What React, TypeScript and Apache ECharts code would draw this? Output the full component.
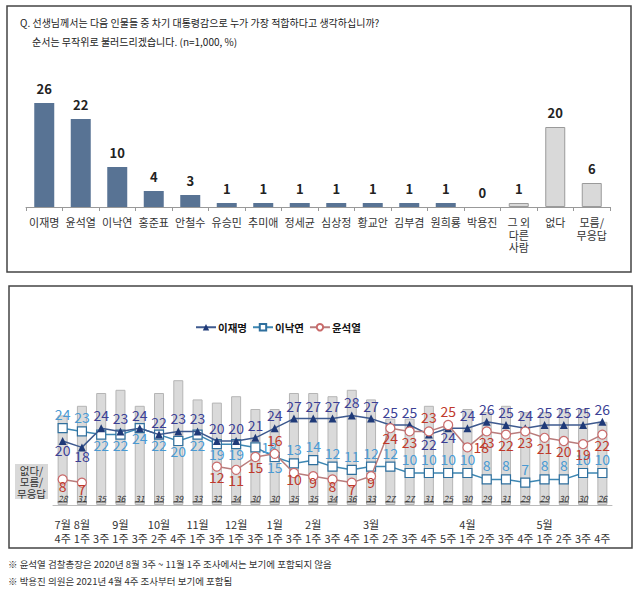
import React, { useEffect, useRef } from "react";
import * as echarts from "echarts";

const topCategories = ["이재명", "윤석열", "이낙연", "홍준표", "안철수", "유승민", "추미애", "정세균", "심상정", "황교안", "김부겸", "원희룡", "박용진", "그 외\n다른\n사람", "없다", "모름/\n무응답"];
const topValues = [26, 22, 10, 4, 3, 1, 1, 1, 1, 1, 1, 1, 0, 1, 20, 6];

const weeks = ["7월\n4주", "8월\n1주", "\n3주", "9월\n1주", "\n3주", "10월\n2주", "\n4주", "11월\n1주", "\n3주", "12월\n1주", "\n3주", "1월\n1주", "\n3주", "2월\n1주", "\n3주", "\n4주", "3월\n1주", "\n2주", "\n3주", "\n4주", "\n5주", "4월\n1주", "\n2주", "\n3주", "\n4주", "5월\n1주", "\n2주", "\n3주", "\n4주"];
const leeJM = [20, 18, 24, 23, 24, 22, 23, 23, 20, 20, 21, 24, 27, 27, 27, 28, 27, 25, 25, 22, 24, 24, 26, 25, 24, 25, 25, 25, 26];
const leeNY = [24, 23, 22, 22, 24, 22, 20, 22, 19, 19, 18, 15, 13, 14, 12, 11, 12, 12, 10, 10, 10, 10, 8, 8, 7, 8, 8, 10, 10];
const yoon = [8, 7, null, null, null, null, null, null, 12, 11, 15, 16, 10, 9, 8, 7, 9, 24, 23, 23, 25, 18, 23, 22, 23, 21, 20, 19, 22];
const noneDk = [28, 31, 35, 36, 31, 35, 39, 33, 32, 34, 30, 30, 35, 35, 34, 36, 33, 27, 27, 31, 25, 30, 29, 31, 29, 29, 30, 30, 26];

// label placement (style only)
const leePos = leeJM.map((_, i) => ([0, 1, 19, 20].includes(i) ? "bottom" : "top"));
const nyPos = leeNY.map((_, i) => (i <= 1 ? "top" : i === 10 ? "right" : i <= 11 ? "bottom" : "top"));
const yoonPos = yoon.map((_, i) => ([11, 19, 20].includes(i) ? "top" : i === 21 ? "right" : "bottom"));

const FONT = "'Noto Sans CJK KR', 'Noto Sans', sans-serif";

export default function App() {
  const ref = useRef<HTMLDivElement>(null);
  useEffect(() => {
    const chart = echarts.init(ref.current!, null, { renderer: "svg" });
    const otherStart = 13;
    const lbl = (pos: string, tight = false) => ({
      position: pos,
      distance: pos === "bottom" ? (tight ? -6 : -2) : pos === "right" ? 1 : 2,
    });
    const option: any = {
      animation: false,
      textStyle: { fontFamily: FONT },
      legend: {
        data: ["이재명", "이낙연", "윤석열"],
        left: 190,
        top: 317,
        itemWidth: 20,
        itemHeight: 8,
        itemGap: 5,
        textStyle: { fontFamily: FONT, fontSize: 10.5, fontWeight: "bold", color: "#111", padding: [0, 0, 0, -3] },
      },
      graphic: [
        { type: "rect", shape: { x: 7, y: 6, width: 624, height: 266 }, style: { fill: "none", stroke: "#444", lineWidth: 1.5 } },
        { type: "rect", shape: { x: 9, y: 286, width: 623, height: 262 }, style: { fill: "none", stroke: "#444", lineWidth: 1.5 } },
        { type: "text", x: 20, y: 17, style: { text: "Q. 선생님께서는 다음 인물들 중 차기 대통령감으로 누가 가장 적합하다고 생각하십니까?", fontSize: 10, fill: "#222", fontFamily: FONT } },
        { type: "text", x: 32, y: 36, style: { text: "순서는 무작위로 불러드리겠습니다. (n=1,000, %)", fontSize: 10, fill: "#222", fontFamily: FONT } },
        { type: "rect", shape: { x: 15, y: 464, width: 33, height: 35 }, style: { fill: "#d9d9d9" } },
        { type: "text", x: 31.5, y: 464.5, style: { text: "없다/\n모름/\n무응답", fontSize: 10.5, lineHeight: 11.5, align: "center", fill: "#333", fontFamily: FONT } },
        { type: "text", x: 8, y: 559, style: { text: "※ 윤석열 검찰총장은 2020년 8월 3주 ~ 11월 1주 조사에서는 보기에 포함되지 않음", fontSize: 9.5, fill: "#333", fontFamily: FONT } },
        { type: "text", x: 8, y: 576, style: { text: "※ 박용진 의원은 2021년 4월 4주 조사부터 보기에 포함됨", fontSize: 9.5, fill: "#333", fontFamily: FONT } },
      ],
      grid: [
        { left: 26, right: 30, top: 87, height: 120 },
        { left: 53, right: 28, top: 377, height: 128 },
      ],
      xAxis: [
        {
          gridIndex: 0,
          type: "category",
          data: topCategories,
          axisLine: { lineStyle: { color: "#999" } },
          axisTick: { show: true, length: 4, lineStyle: { color: "#999" } },
          axisLabel: { color: "#333", fontSize: 11, margin: 9, lineHeight: 12.5, interval: 0, fontFamily: FONT },
        },
        {
          gridIndex: 1,
          type: "category",
          data: weeks,
          axisLine: { lineStyle: { color: "#bbb" } },
          axisTick: { show: false },
          axisLabel: { color: "#333", fontSize: 11, margin: 12, lineHeight: 14, interval: 0, fontFamily: FONT },
        },
      ],
      yAxis: [
        { gridIndex: 0, type: "value", min: 0, max: 30, show: false },
        { gridIndex: 1, type: "value", min: 0, max: 40, show: false },
      ],
      series: [
        {
          type: "bar",
          xAxisIndex: 0,
          yAxisIndex: 0,
          barWidth: 20,
          data: topValues.map((v, i) => ({
            value: v,
            itemStyle: i >= otherStart ? { color: "#d9d9d9", borderColor: "#9a9a9a", borderWidth: 1 } : { color: "#587394" },
          })),
          label: { show: true, position: "top", distance: 8, fontSize: 13, fontWeight: "bold", color: "#222", fontFamily: FONT },
        },
        {
          name: "없다/모름/무응답",
          type: "bar",
          xAxisIndex: 1,
          yAxisIndex: 1,
          barWidth: 10,
          data: noneDk,
          itemStyle: { color: "#dadada", borderColor: "#b5b5b5", borderWidth: 1 },
          z: 1,
        },
        {
          type: "custom",
          xAxisIndex: 1,
          yAxisIndex: 1,
          data: noneDk.map((v, i) => [i, v]),
          z: 3,
          renderItem: (params: any, api: any) => {
            const p = api.coord([api.value(0), 0]);
            return {
              type: "group",
              children: [
                { type: "text", x: p[0], y: p[1] - 3, style: { text: String(api.value(1)), align: "center", verticalAlign: "bottom", fontSize: 8.5, fontStyle: "italic", fill: "#333", fontFamily: FONT } },
                { type: "line", shape: { x1: p[0] - 5, y1: p[1] - 3, x2: p[0] + 5, y2: p[1] - 3 }, style: { stroke: "#333", lineWidth: 0.8 } },
              ],
            };
          },
        },
        {
          name: "이재명",
          type: "line",
          xAxisIndex: 1,
          yAxisIndex: 1,
          data: leeJM.map((v, i) => ({ value: v, label: lbl(leePos[i]) })),
          symbol: "triangle",
          symbolSize: 8,
          lineStyle: { color: "#3e5a8f", width: 1.5 },
          itemStyle: { color: "#1f3a78" },
          label: { show: true, fontSize: 14, color: "#3b3f95", fontFamily: FONT },
          z: 5,
        },
        {
          name: "이낙연",
          type: "line",
          xAxisIndex: 1,
          yAxisIndex: 1,
          data: leeNY.map((v, i) => ({ value: v, label: lbl(nyPos[i]) })),
          symbol: "rect",
          symbolSize: 9,
          lineStyle: { color: "#3d87b3", width: 1.5 },
          itemStyle: { color: "#ffffff", borderColor: "#2f6f9d", borderWidth: 1.2 },
          label: { show: true, fontSize: 14, color: "#4a9ad3", fontFamily: FONT },
          z: 4,
        },
        {
          name: "윤석열",
          type: "line",
          xAxisIndex: 1,
          yAxisIndex: 1,
          data: yoon.map((v, i) => ({ value: v, label: lbl(yoonPos[i], v !== null && v < 11) })),
          symbol: "circle",
          symbolSize: 9,
          connectNulls: false,
          lineStyle: { color: "#b97c7c", width: 1.5 },
          itemStyle: { color: "#ffffff", borderColor: "#c96a6a", borderWidth: 1.2 },
          label: { show: true, fontSize: 14, color: "#c0392b", fontFamily: FONT },
          z: 6,
        },
      ],
    };
    chart.setOption(option);
    return () => chart.dispose();
  }, []);
  return <div ref={ref} style={{ position: "fixed", left: 0, top: 0, width: 640, height: 591, background: "#fff" }} />;
}
